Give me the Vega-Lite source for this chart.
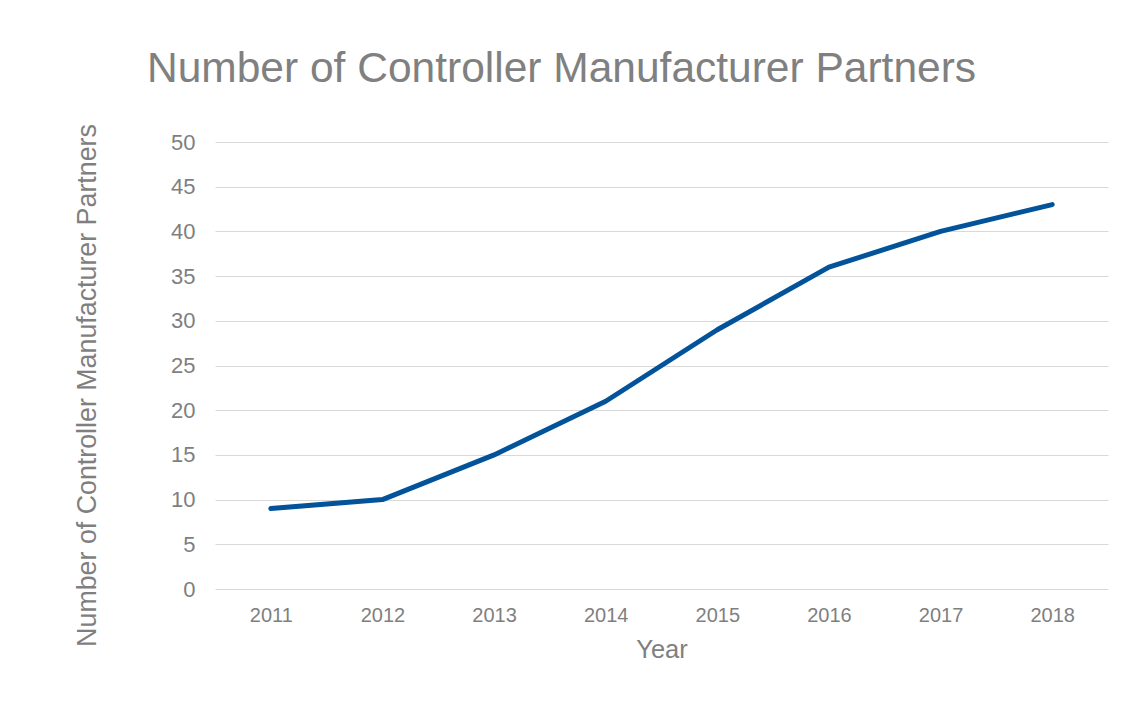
{
  "$schema": "https://vega.github.io/schema/vega-lite/v6.json",
  "width": 893,
  "height": 447,
  "autosize": {"type": "none"},
  "padding": {"left": 215, "top": 142, "right": 22, "bottom": 126},
  "background": "white",
  "title": {
    "text": "Number of Controller Manufacturer Partners",
    "anchor": "start",
    "frame": "group",
    "dx": -68,
    "offset": -1,
    "baseline": "alphabetic",
    "font": "Liberation Sans",
    "fontSize": 42.5,
    "fontWeight": "normal",
    "color": "#808080"
  },
  "config": {
    "view": {"stroke": null},
    "axis": {
      "labelFont": "Liberation Sans",
      "titleFont": "Liberation Sans",
      "labelColor": "#7f7f7f",
      "titleColor": "#7f7f7f",
      "titleFontWeight": "normal",
      "gridColor": "#d9d9d9",
      "gridWidth": 1,
      "domain": false,
      "ticks": false
    }
  },
  "data": {
    "values": [
      {"Year": "2011", "Partners": 9},
      {"Year": "2012", "Partners": 10},
      {"Year": "2013", "Partners": 15},
      {"Year": "2014", "Partners": 21},
      {"Year": "2015", "Partners": 29},
      {"Year": "2016", "Partners": 36},
      {"Year": "2017", "Partners": 40},
      {"Year": "2018", "Partners": 43}
    ]
  },
  "mark": {"type": "line", "color": "#02539a", "strokeWidth": 5, "strokeCap": "round", "strokeJoin": "round"},
  "encoding": {
    "x": {
      "field": "Year",
      "type": "ordinal",
      "scale": {"type": "point", "padding": 0.5},
      "axis": {
        "title": "Year",
        "labelAngle": 0,
        "labelFontSize": 20,
        "labelPadding": 16,
        "titleFontSize": 25.5,
        "titlePadding": 12,
        "grid": false
      }
    },
    "y": {
      "field": "Partners",
      "type": "quantitative",
      "scale": {"domain": [0, 50], "nice": false},
      "axis": {
        "title": "Number of Controller Manufacturer Partners",
        "values": [0, 5, 10, 15, 20, 25, 30, 35, 40, 45, 50],
        "labelFontSize": 22,
        "labelPadding": 20,
        "titleFontSize": 26.8,
        "titlePadding": 69,
        "titleY": 243
      }
    }
  }
}
